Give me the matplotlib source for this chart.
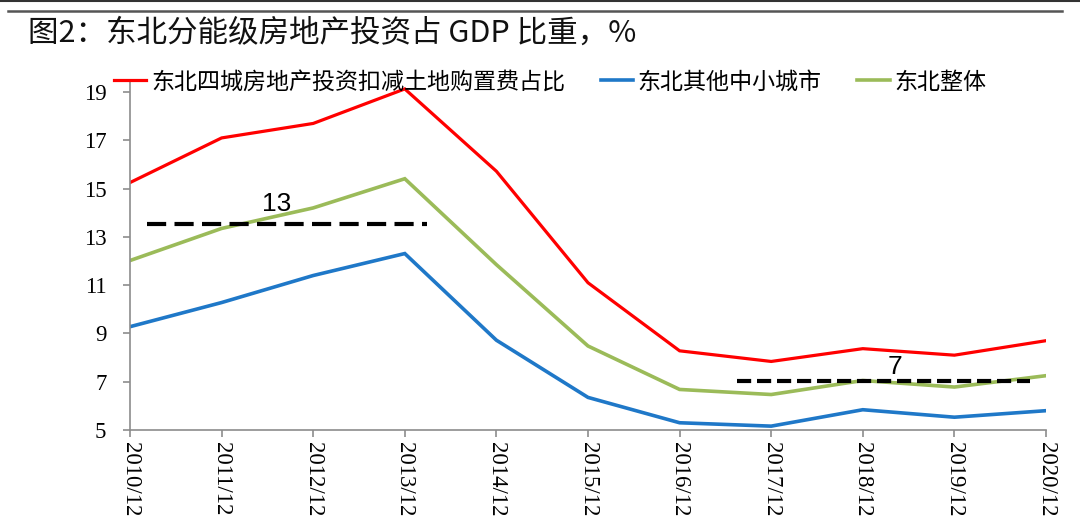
import matplotlib
matplotlib.use("Agg")
import matplotlib.pyplot as plt
from matplotlib.lines import Line2D

plt.rcParams['font.family'] = ['Noto Sans CJK SC', 'DejaVu Sans']

categories = ["2010/12", "2011/12", "2012/12", "2013/12", "2014/12", "2015/12",
              "2016/12", "2017/12", "2018/12", "2019/12", "2020/12"]
four_cities = [15.25, 17.1, 17.7, 19.13, 15.72, 11.1, 8.28, 7.84, 8.37, 8.1, 8.7]
small_cities = [9.28, 10.28, 11.4, 12.31, 8.72, 6.35, 5.3, 5.16, 5.84, 5.53, 5.8]
northeast = [12.02, 13.35, 14.2, 15.41, 11.85, 8.48, 6.68, 6.47, 7.05, 6.78, 7.25]
series_names = ["东北四城房地产投资扣减土地购置费占比", "东北其他中小城市", "东北整体"]
yticks = [5, 7, 9, 11, 13, 15, 17, 19]

ref_high = 13.55
ref_high_span = (0.19, 3.24)
ref_high_label = "13"
ref_low = 7.04
ref_low_span = (6.63, 9.83)
ref_low_label = "7"

title = "图2：东北分能级房地产投资占 GDP 比重，%"

red = "#FF0000"
blue = "#1F78C8"
green = "#9BBB59"

fig = plt.figure(figsize=(10.8, 5.2), dpi=100)
ax = fig.add_axes([130/1080, 1-430/520, (1046-130)/1080, (430-80)/520])

x = list(range(len(categories)))
l1, = ax.plot(x, four_cities, color=red, lw=2.3, solid_joinstyle='miter')
l2, = ax.plot(x, small_cities, color=blue, lw=2.6, solid_joinstyle='miter')
l3, = ax.plot(x, northeast, color=green, lw=2.6, solid_joinstyle='miter')

ax.plot(ref_high_span, [ref_high, ref_high], color="black", lw=3.0,
        dashes=(4.6, 2.0), zorder=5)
ax.plot(ref_low_span, [ref_low, ref_low], color="black", lw=3.0,
        dashes=(3.4, 1.4), zorder=5)
ax.text(1.6, 14.35, ref_high_label, fontsize=19, family=['Liberation Sans'],
        ha='center', va='center', color='black')
ax.text(8.35, 7.6, ref_low_label, fontsize=19, family=['Liberation Sans'],
        ha='center', va='center', color='black')

ax.set_xlim(0, 10)
ax.set_ylim(5, 19.5)
ax.set_yticks(yticks)
ax.set_yticklabels([str(v) for v in yticks], family=['Liberation Serif'], fontsize=16.5)
ax.set_xticks(x)
ax.set_xticklabels(categories, rotation=-90, family=['Liberation Serif'], fontsize=16.5,
                   ha='center', va='top')

for s in ['top', 'right']:
    ax.spines[s].set_visible(False)
for s in ['left', 'bottom']:
    ax.spines[s].set_color('#8C8C8C')
    ax.spines[s].set_linewidth(1.2)
ax.tick_params(axis='both', direction='out', color='#8C8C8C', length=5, width=1.2,
               colors='black', pad=4)
ax.tick_params(axis='y', pad=12)

handles = [Line2D([], [], color=red, lw=2.3),
           Line2D([], [], color=blue, lw=2.6),
           Line2D([], [], color=green, lw=2.6)]
fig.legend(handles, series_names, loc='center left',
           bbox_to_anchor=(114/1080, 1-82/520), ncol=3, frameon=False,
           fontsize=16.6, handlelength=1.4, handletextpad=0.2,
           columnspacing=1.55, borderaxespad=0, borderpad=0)

fig.text(28/1080, 1-33/520, title, fontsize=22, ha='left', va='center', color='#111111')

fig.add_artist(Line2D([8/1080, 1062/1080], [1-11/520, 1-11/520], color='#555555', lw=1.8))
fig.add_artist(Line2D([0, 1], [1-0.8/520, 1-0.8/520], color='#333333', lw=1.5))

fig.savefig("out.png", dpi=100, facecolor='white')
